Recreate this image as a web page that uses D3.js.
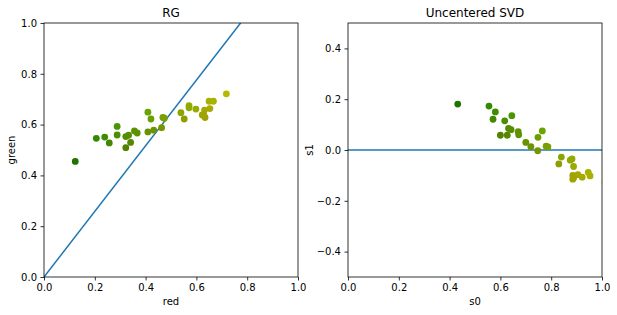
<!DOCTYPE html>
<html>
<head>
<meta charset="utf-8">
<script src="https://cdn.jsdelivr.net/npm/d3@7"></script>
<style>
  body { margin: 0; background: #fff; }
  text { font-family: "DejaVu Sans", sans-serif; fill: #000; }
</style>
</head>
<body>
<script>
// left panel: red vs green per sample
const red   = [0.123, 0.206, 0.239, 0.257, 0.288, 0.288, 0.322, 0.322, 0.333, 0.341, 0.356, 0.367, 0.409, 0.409, 0.421, 0.432,
               0.463, 0.468, 0.474, 0.539, 0.552, 0.571, 0.571, 0.598, 0.623, 0.634, 0.632, 0.650, 0.667, 0.653, 0.718, 0.629];
const green = [0.455, 0.546, 0.551, 0.528, 0.593, 0.559, 0.509, 0.553, 0.558, 0.530, 0.575, 0.567, 0.649, 0.571, 0.622, 0.578,
               0.588, 0.628, 0.625, 0.647, 0.622, 0.675, 0.666, 0.661, 0.638, 0.628, 0.657, 0.692, 0.692, 0.663, 0.721, 0.638];
// right panel: same samples in the uncentered SVD basis
const s0 = [0.432, 0.555, 0.580, 0.571, 0.645, 0.617, 0.600, 0.632, 0.642, 0.627, 0.670, 0.672, 0.765, 0.700, 0.748, 0.720,
            0.747, 0.780, 0.787, 0.840, 0.830, 0.882, 0.875, 0.888, 0.885, 0.885, 0.905, 0.946, 0.953, 0.922, 1.012, 0.888];
const s1 = [0.181, 0.173, 0.150, 0.121, 0.135, 0.115, 0.058, 0.085, 0.080, 0.058, 0.072, 0.060, 0.075, 0.030, 0.050, 0.013,
            -0.003, 0.015, 0.012, -0.028, -0.055, -0.035, -0.040, -0.065, -0.100, -0.115, -0.097, -0.088, -0.102, -0.107, -0.127, -0.110];
// first singular direction drawn in each panel
const rgLine  = [[0, 0], [0.774, 1.0]];
const svdLine = [[0, 0], [1, 0]];
const unitTicks = [0, 0.2, 0.4, 0.6, 0.8, 1.0];
const s1Ticks = [-0.4, -0.2, 0, 0.2, 0.4];

const svg = d3.select('body').append('svg').attr('width', 617).attr('height', 315);
const fmt = d => d3.format('.1f')(d).replace('-', '\u2212');
const blue = '#1f77b4';

function panel(left, title, xLabel, yLabel, yDomain, yTicks, xs, ys, line, clipId) {
  const x = d3.scaleLinear().domain([0, 1]).range([left, left + 254]);
  const y = d3.scaleLinear().domain(yDomain).range([277, 23]);
  const g = svg.append('g');

  g.append('clipPath').attr('id', clipId).append('rect')
   .attr('x', left).attr('y', 23).attr('width', 254).attr('height', 254);
  const plot = g.append('g').attr('clip-path', `url(#${clipId})`);

  plot.append('path').datum(line)
      .attr('d', d3.line().x(d => x(d[0])).y(d => y(d[1])))
      .style('fill', 'none').style('stroke', blue).style('stroke-width', 1.5);

  plot.selectAll('circle').data(d3.range(xs.length)).join('circle')
      .attr('cx', i => x(xs[i])).attr('cy', i => y(ys[i])).attr('r', 3.4)
      .style('fill', i => d3.rgb(red[i] * 255, green[i] * 255, 0));

  const xAxis = g.append('g').attr('transform', 'translate(0,277)')
                 .call(d3.axisBottom(x).tickValues(unitTicks).tickFormat(fmt).tickSizeOuter(0).tickSize(3.5).tickPadding(3.5));
  const yAxis = g.append('g').attr('transform', `translate(${left},0)`)
                 .call(d3.axisLeft(y).tickValues(yTicks).tickFormat(fmt).tickSizeOuter(0).tickSize(3.5).tickPadding(3.5));
  [xAxis, yAxis].forEach(a => {
    a.select('.domain').remove();
    a.selectAll('line').style('stroke', '#000').style('stroke-width', 0.8);
    a.selectAll('text').style('font-size', '10px').style('font-family', 'DejaVu Sans');
  });

  g.append('rect').attr('x', left).attr('y', 23).attr('width', 254).attr('height', 254)
   .style('fill', 'none').style('stroke', '#000').style('stroke-width', 0.8);

  g.append('text').attr('x', left + 127).attr('y', 17).attr('text-anchor', 'middle')
   .style('font-size', '12px').text(title);
  g.append('text').attr('x', left + 127).attr('y', 305).attr('text-anchor', 'middle')
   .style('font-size', '10px').text(xLabel);
  const yl = yLabel === 'green' ? left - 29 : left - 35;
  g.append('text').attr('transform', `translate(${yl},150) rotate(-90)`).attr('text-anchor', 'middle')
   .style('font-size', '10px').text(yLabel);
}

panel(44, 'RG', 'red', 'green', [0, 1], unitTicks, red, green, rgLine, 'clipL');
panel(348, 'Uncentered SVD', 's0', 's1', [-0.5, 0.5], s1Ticks, s0, s1, svdLine, 'clipR');
</script>
</body>
</html>
